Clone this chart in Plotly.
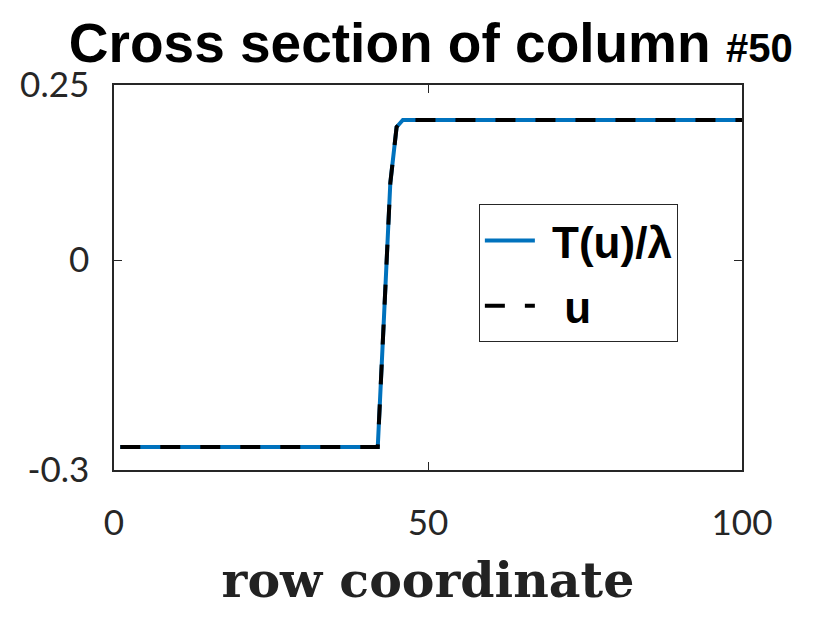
"""Cross section of a single column: T(u)/lambda against u."""

import plotly.graph_objects as go

# Data
row_coord = [1, 42, 43, 44, 45, 46, 100]
t_over_lambda = [-0.267, -0.267, -0.08, 0.11, 0.19, 0.2, 0.2]
u_values = [-0.267, -0.267, -0.08, 0.11, 0.19, 0.2, 0.2]

x_ticks = [0, 50, 100]
y_ticks = [-0.3, 0, 0.25]
y_tick_text = ["-0.3", "0", "0.25"]

AXIS_COLOR = "#262626"
TICK_FONT = dict(family="Lato, Open Sans, sans-serif", size=35, color=AXIS_COLOR)

fig = go.Figure()

# Blue solid line underneath
fig.add_trace(go.Scatter(
    x=row_coord,
    y=t_over_lambda,
    mode="lines",
    line=dict(color="#0072BD", width=4),
    name="<b> T(u)/λ</b>",
    legendgroup="a",
))

# Black dashed line on top
fig.add_trace(go.Scatter(
    x=row_coord,
    y=u_values,
    mode="lines",
    line=dict(color="black", width=4, dash="20px,20px"),
    name="<b>  u</b>",
    legendgroup="b",
))

# page body has an 8px margin, so the figure is a bit smaller than the window
fig.update_layout(
    width=813,
    height=610,
    margin=dict(l=102, r=79, t=77, b=148),
    paper_bgcolor="white",
    plot_bgcolor="white",
    title=dict(
        text="<b>Cross section of column <span style='font-size:40px'>#50</span></b>",
        font=dict(family="Liberation Sans, Arial, sans-serif", size=55, color="black"),
        x=0.52,
        xanchor="center",
        xref="container",
        y=0.975,
        yanchor="top",
        yref="container",
    ),
    legend=dict(
        x=0.581,
        y=0.69,
        xanchor="left",
        yanchor="top",
        bgcolor="white",
        bordercolor=AXIS_COLOR,
        borderwidth=1,
        font=dict(family="Liberation Sans, Arial, sans-serif", size=44, color="black"),
        tracegroupgap=5,
        itemwidth=50,
    ),
    showlegend=True,
)

fig.update_xaxes(
    range=[0, 100],
    tickvals=x_ticks,
    ticks="inside",
    ticklen=8,
    tickcolor=AXIS_COLOR,
    showline=True,
    linecolor=AXIS_COLOR,
    linewidth=1.5,
    mirror="ticks",
    showgrid=False,
    zeroline=False,
    tickfont=TICK_FONT,
    ticklabelstandoff=21,
    title=dict(
        text="<b>row coordinate</b>",
        font=dict(family="DejaVu Serif, serif", size=49, color="#222222"),
        standoff=22,
    ),
)

fig.update_yaxes(
    range=[-0.3, 0.25],
    tickvals=y_ticks,
    ticktext=y_tick_text,
    ticks="inside",
    ticklen=8,
    tickcolor=AXIS_COLOR,
    showline=True,
    linecolor=AXIS_COLOR,
    linewidth=1.5,
    mirror="ticks",
    showgrid=False,
    zeroline=False,
    tickfont=TICK_FONT,
    ticklabelstandoff=16,
)

fig.write_html("out.html")
